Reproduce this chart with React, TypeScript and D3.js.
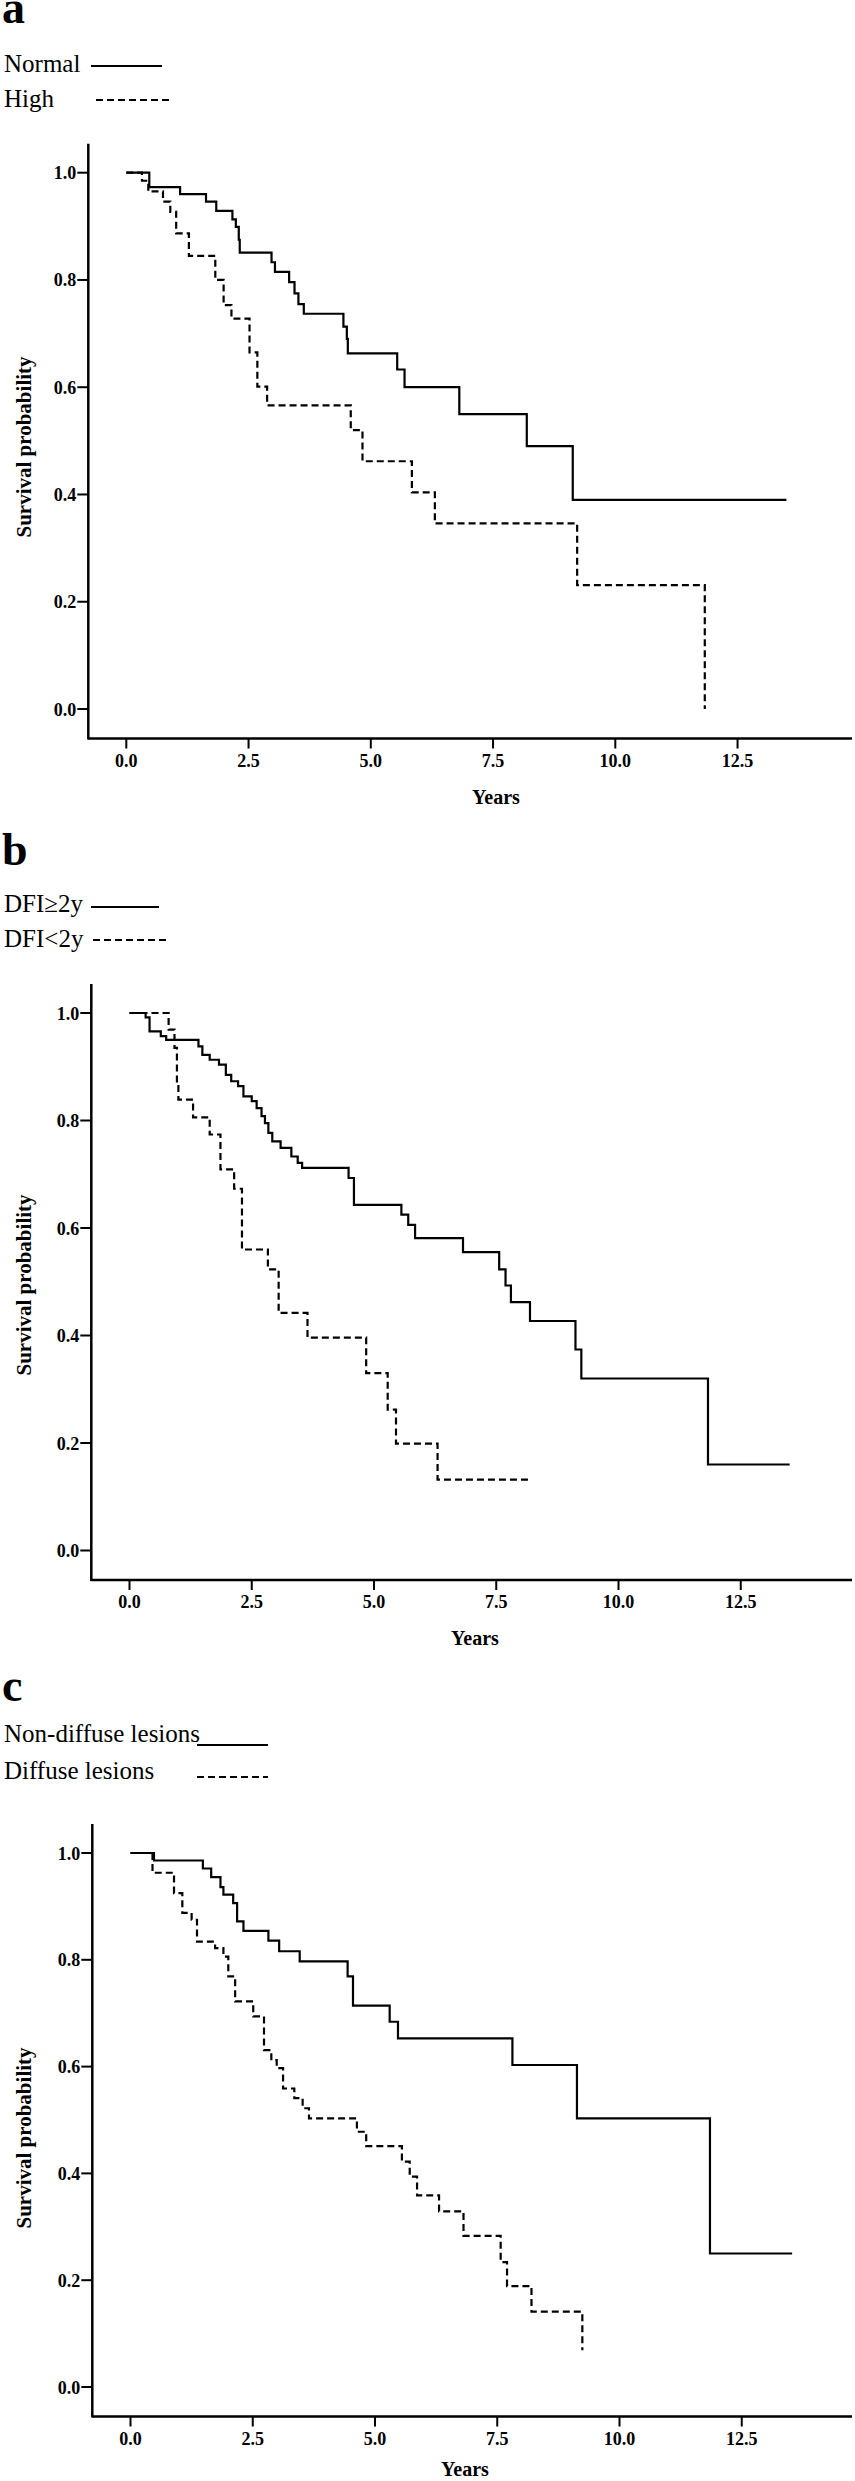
import React from 'react';
import * as d3 from 'd3';

// tick values
const xTicks = [0, 2.5, 5, 7.5, 10, 12.5];
const yTicks = [0, 0.2, 0.4, 0.6, 0.8, 1.0];

// [time, survival after drop]
const normalSteps = [
  [0.47, 0.973], [1.10, 0.960], [1.63, 0.946], [1.84, 0.929], [2.17, 0.913], [2.24, 0.899],
  [2.30, 0.875], [2.32, 0.851], [2.97, 0.833], [3.04, 0.815], [3.33, 0.796], [3.44, 0.775],
  [3.52, 0.755], [3.63, 0.737], [4.44, 0.713], [4.51, 0.690], [4.53, 0.663], [5.54, 0.633],
  [5.69, 0.600], [6.81, 0.550], [8.19, 0.490], [9.13, 0.390],
];
const normalEnd = 13.5;

const highSteps = [
  [0.32, 0.985], [0.45, 0.965], [0.75, 0.946], [0.90, 0.927], [1.02, 0.887], [1.28, 0.845],
  [1.82, 0.800], [1.99, 0.753], [2.15, 0.728], [2.52, 0.665], [2.68, 0.601], [2.88, 0.566],
  [4.59, 0.520], [4.83, 0.462], [5.84, 0.404], [6.31, 0.346], [9.22, 0.231], [11.83, 0.0],
];
const highEnd = 11.83;

const dfiLongSteps = [
  [0.33, 0.992], [0.41, 0.966], [0.64, 0.957], [0.75, 0.950], [1.41, 0.938], [1.49, 0.922],
  [1.64, 0.913], [1.83, 0.904], [1.97, 0.885], [2.08, 0.873], [2.22, 0.864], [2.33, 0.845],
  [2.50, 0.836], [2.60, 0.823], [2.70, 0.808], [2.77, 0.795], [2.84, 0.777], [2.92, 0.761],
  [3.09, 0.749], [3.31, 0.733], [3.44, 0.721], [3.53, 0.712], [4.48, 0.693], [4.59, 0.643],
  [5.56, 0.625], [5.70, 0.606], [5.84, 0.581], [6.82, 0.555], [7.56, 0.523], [7.69, 0.493],
  [7.80, 0.462], [8.19, 0.427], [9.12, 0.374], [9.24, 0.320], [11.83, 0.160],
];
const dfiLongEnd = 13.5;

const dfiShortSteps = [
  [0.80, 0.969], [0.92, 0.935], [0.97, 0.870], [1.00, 0.839], [1.30, 0.806], [1.64, 0.774],
  [1.86, 0.709], [2.14, 0.673], [2.30, 0.560], [2.83, 0.523], [3.05, 0.442], [3.64, 0.396],
  [4.84, 0.330], [5.28, 0.262], [5.45, 0.199], [6.30, 0.132],
];
const dfiShortEnd = 8.18;

const nonDiffuseSteps = [
  [0.48, 0.986], [1.48, 0.971], [1.65, 0.955], [1.84, 0.936], [1.90, 0.922], [2.10, 0.906],
  [2.18, 0.872], [2.31, 0.854], [2.82, 0.836], [3.04, 0.816], [3.46, 0.797], [4.44, 0.769],
  [4.55, 0.714], [5.30, 0.684], [5.47, 0.653], [7.81, 0.603], [9.13, 0.503], [11.85, 0.250],
];
const nonDiffuseEnd = 13.53;

const diffuseSteps = [
  [0.45, 0.963], [0.89, 0.925], [1.06, 0.888], [1.25, 0.875], [1.36, 0.834], [1.73, 0.822],
  [1.90, 0.806], [2.00, 0.769], [2.14, 0.722], [2.51, 0.694], [2.73, 0.631], [2.88, 0.612],
  [2.99, 0.597], [3.12, 0.559], [3.35, 0.541], [3.52, 0.522], [3.65, 0.503], [4.63, 0.478],
  [4.82, 0.451], [5.55, 0.422], [5.71, 0.394], [5.86, 0.359], [6.31, 0.329], [6.81, 0.283],
  [7.57, 0.234], [7.70, 0.189], [8.20, 0.141], [9.24, 0.069],
];
const diffuseEnd = 9.24;

const panelLetters = ['a', 'b', 'c'];
const legendLabels = [
  ['Normal', 'High'],
  ['DFI\u22652y', 'DFI<2y'],
  ['Non-diffuse lesions', 'Diffuse lesions'],
];

const panelSeries = [
  [{ steps: normalSteps, end: normalEnd }, { steps: highSteps, end: highEnd }],
  [{ steps: dfiLongSteps, end: dfiLongEnd }, { steps: dfiShortSteps, end: dfiShortEnd }],
  [{ steps: nonDiffuseSteps, end: nonDiffuseEnd }, { steps: diffuseSteps, end: diffuseEnd }],
];

// layout
const layout = [
  { letterY: 23, legY: [72, 107], lineY: [66, 100], lineX: [[91, 162], [96, 172]],
    yOne: 172.7, yZero: 709, axisX: 88.3, x0: 126.3, yearsX: 496, yearsY: 804, survY: 447 },
  { letterY: 865, legY: [912, 947], lineY: [907, 940], lineX: [[91, 159], [93, 166]],
    yOne: 1013, yZero: 1550.5, axisX: 91.3, x0: 129.5, yearsX: 475, yearsY: 1645, survY: 1285 },
  { letterY: 1701, legY: [1742, 1779], lineY: [1745, 1777], lineX: [[197, 268], [197, 268]],
    yOne: 1853, yZero: 2387, axisX: 92.3, x0: 130.5, yearsX: 465, yearsY: 2476, survY: 2138 },
];

const font = '"Liberation Serif", "Times New Roman", serif';
const dash = '7,4';

const Panel = ({ i }: { i: number }) => {
  const L = layout[i];
  const x = d3.scaleLinear().domain([0, 12.5]).range([L.x0, L.x0 + 12.5 * 48.9]);
  const y = d3.scaleLinear().domain([0, 1]).range([L.yZero, L.yOne]);
  const axisY = L.yZero + 29.5;
  const axisTop = L.yOne - 29;

  const line = d3.line<number[]>()
    .x(d => x(d[0]))
    .y(d => y(d[1]))
    .curve(d3.curveStepAfter);

  const paths = panelSeries[i].map(s => {
    const pts = [[0, 1], ...s.steps];
    pts.push([s.end, s.steps[s.steps.length - 1][1]]);
    return line(pts) as string;
  });

  return (
    <g>
      <text x={2} y={L.letterY} fontFamily={font} fontWeight="bold" fontSize={46}>{panelLetters[i]}</text>
      {legendLabels[i].map((lab, k) => (
        <g key={k}>
          <text x={4} y={L.legY[k]} fontFamily={font} fontSize={25}>{lab}</text>
          <line x1={L.lineX[k][0]} x2={L.lineX[k][1]} y1={L.lineY[k]} y2={L.lineY[k]}
            stroke="#000" strokeWidth={2} strokeDasharray={k === 1 ? dash : undefined} />
        </g>
      ))}

      {/* axes */}
      <line x1={L.axisX} x2={L.axisX} y1={axisTop} y2={axisY + 1} stroke="#000" strokeWidth={2.5} />
      <line x1={L.axisX} x2={852} y1={axisY} y2={axisY} stroke="#000" strokeWidth={2.5} />
      {yTicks.map(t => (
        <g key={'y' + t}>
          <line x1={L.axisX - 11} x2={L.axisX} y1={y(t)} y2={y(t)} stroke="#000" strokeWidth={2} />
          <text x={L.axisX - 12} y={y(t) + 6.5} textAnchor="end" fontFamily={font}
            fontWeight="bold" fontSize={18}>{d3.format('.1f')(t)}</text>
        </g>
      ))}
      {xTicks.map(t => (
        <g key={'x' + t}>
          <line x1={x(t)} x2={x(t)} y1={axisY} y2={axisY + 10} stroke="#000" strokeWidth={2} />
          <text x={x(t)} y={axisY + 28} textAnchor="middle" fontFamily={font}
            fontWeight="bold" fontSize={18}>{d3.format('.1f')(t)}</text>
        </g>
      ))}
      <text x={L.yearsX} y={L.yearsY} textAnchor="middle" fontFamily={font}
        fontWeight="bold" fontSize={20}>Years</text>
      <text transform={`translate(31,${L.survY}) rotate(-90)`} textAnchor="middle"
        fontFamily={font} fontWeight="bold" fontSize={21}>Survival probability</text>

      {/* curves */}
      <path d={paths[0]} fill="none" stroke="#000" strokeWidth={2.2} />
      <path d={paths[1]} fill="none" stroke="#000" strokeWidth={2.2} strokeDasharray={dash} />
    </g>
  );
};

export default function App() {
  return (
    <svg width={855} height={2481} style={{ position: 'absolute', left: 0, top: 0, background: '#fff' }}>
      {[0, 1, 2].map(i => <Panel key={i} i={i} />)}
    </svg>
  );
}
